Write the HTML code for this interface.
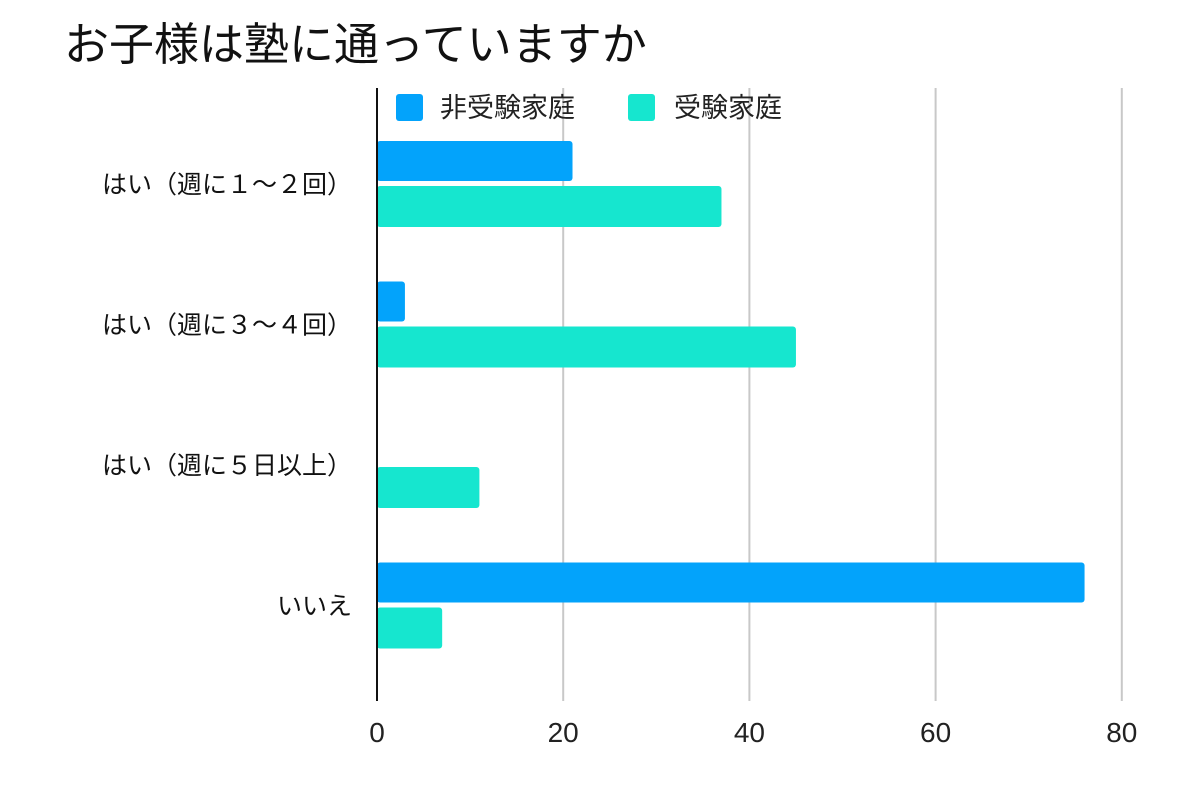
<!DOCTYPE html>
<html><head><meta charset="utf-8">
<style>
html,body{margin:0;padding:0;background:#fff;}
svg{display:block;font-family:"Liberation Sans","Noto Sans CJK JP",sans-serif;}
</style></head>
<body>
<svg id="chart" width="1200" height="791" viewBox="0 0 1200 791">
<text x="64" y="60" font-size="45" fill="#111">お子様は塾に通っていますか</text>
<g id="grid"></g>
<g id="bars"></g>
<g id="labels"></g>
<line x1="377" y1="88" x2="377" y2="701" stroke="#111" stroke-width="2"/>
<g>
<g>
<rect x="396" y="94" width="27" height="27" rx="3" fill="#03a3fb"/>
<text x="440" y="117" font-size="27" fill="#222">非受験家庭</text></g>
<g>
<rect x="628" y="94" width="27" height="27" rx="3" fill="#16e6cf"/>
<text x="674" y="117" font-size="27" fill="#222">受験家庭</text></g>
</g>
</svg>
<script>
const categories=["はい（週に１〜２回）","はい（週に３〜４回）","はい（週に５日以上）","いいえ"];
const nonExam=[21,3,0,76];
const exam=[37,45,11,7];
const ticks=[0,20,40,60,80];
const NS="http://www.w3.org/2000/svg";
const x=v=>377+v*9.31;
const catY=i=>184+i*140.5;
function mk(t,a,p){const e=document.createElementNS(NS,t);for(const k in a)e.setAttribute(k,a[k]);p.appendChild(e);return e;}
const grid=document.getElementById('grid'),bars=document.getElementById('bars'),labels=document.getElementById('labels');
ticks.forEach(t=>{
 if(t>0){const l=mk('line',{x1:x(t),x2:x(t),y1:88,y2:701,stroke:'#c8c8c8','stroke-width':2},grid);
 
 }
 const tx=mk('text',{x:x(t),y:742,'font-size':28,'text-anchor':'middle',fill:'#222'},labels);
 tx.textContent=t;
 
 
});
categories.forEach((c,i)=>{
 const cy=catY(i);
 const t=mk('text',{x:352,y:cy+9,'font-size':25,'text-anchor':'end',fill:'#111'},labels);
 t.textContent=c;
 
 
 if(nonExam[i]>0){const b=mk('rect',{x:377,y:cy-43,width:x(nonExam[i])-377,height:40,rx:3,fill:'#03a3fb'},bars);
 
 }
 if(exam[i]>0){const b=mk('rect',{x:377,y:cy+2,width:x(exam[i])-377,height:41,rx:3,fill:'#16e6cf'},bars);
 
 }
});
</script>
</body></html>
